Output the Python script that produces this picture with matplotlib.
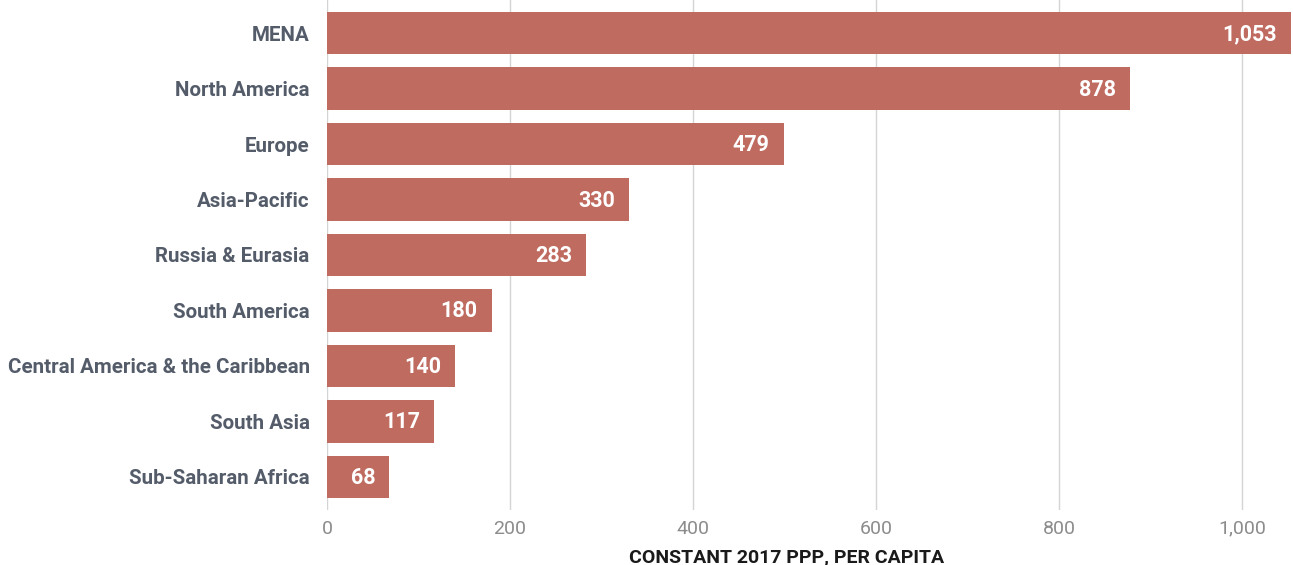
import matplotlib.pyplot as plt

regions = ['MENA', 'North America', 'Europe', 'Asia-Pacific', 'Russia & Eurasia',
           'South America', 'Central America & the Caribbean', 'South Asia',
           'Sub-Saharan Africa']
# bar lengths as drawn in the picture (Europe's bar is drawn longer than its label)
values = [1053, 878, 499, 330, 283, 180, 140, 117, 68]
value_labels = ['1,053', '878', '479', '330', '283', '180', '140', '117', '68']
ticks = [0, 200, 400, 600, 800, 1000]
tick_labels = ['0', '200', '400', '600', '800', '1,000']

plt.rcParams['font.family'] = ['Roboto', 'DejaVu Sans']

fig = plt.figure(figsize=(12.93, 5.65), dpi=100)
ax = fig.add_axes([327 / 1293, 55 / 565, 1 - 327 / 1293, 510 / 565])

ypos = list(range(len(regions)))
ax.barh(ypos, values, height=0.76, color='#bf6b60', zorder=2)

# value labels inside the bar ends
for y, v, lab in zip(ypos, values, value_labels):
    ax.annotate(lab, xy=(v, y), xytext=(-14, -1), textcoords='offset pixels',
                ha='right', va='center', color='white', fontsize=15.5,
                fontweight='bold')

ax.set_xlim(0, 1055.7)
ax.set_ylim(len(regions) - 1 + 0.595, -0.595)

ax.set_yticks(ypos)
ax.set_yticklabels(regions, fontsize=14.8, fontweight='bold', color='#545c6a')
ax.set_xticks(ticks)
ax.set_xticklabels(tick_labels, fontsize=14, color='#8c8c8c')
ax.tick_params(axis='y', length=0, pad=12.5)
ax.tick_params(axis='x', length=0, pad=7)

ax.grid(axis='x', color='#d4d4d4', linewidth=1, zorder=0)
for s in ax.spines.values():
    s.set_visible(False)

ax.set_xlabel('CONSTANT 2017 PPP, PER CAPITA', fontsize=14, fontweight='bold',
              color='#1a1a1a', labelpad=5)
ax.xaxis.set_label_coords(0.476, -0.075)

plt.savefig('out.png', dpi=100)
